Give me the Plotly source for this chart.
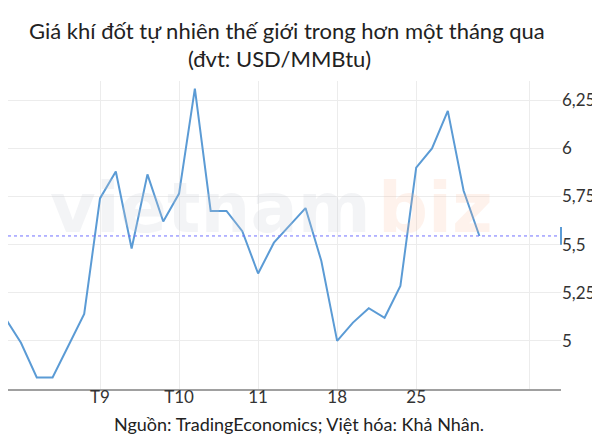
import plotly.graph_objects as go

# Data (trading days, index 0 = first full point)
idx = list(range(-1, 30))
values = [5.12, 4.99, 4.81, 4.81, 4.975, 5.14,
          5.74, 5.88, 5.48, 5.865, 5.62,
          5.765, 6.31, 5.675, 5.675, 5.57,
          5.35, 5.51, 5.60, 5.69, 5.415,
          5.00, 5.095, 5.17, 5.12, 5.285,
          5.90, 6.00, 6.195, 5.78, 5.545]
last_value = 5.545

x_tickvals = [5, 10, 15, 20, 25, 32.15]
x_ticktext = ["T9", "T10", "11", "18", "25", ""]
y_tickvals = [5, 5.25, 5.5, 5.75, 6, 6.25]
y_ticktext = ["5", "5,25", "5,5", "5,75", "6", "6,25"]

title_line1 = "Giá khí đốt tự nhiên thế giới trong hơn một tháng qua"
title_line2 = "(đvt: USD/MMBtu)"
source_text = "Nguồn: TradingEconomics; Việt hóa: Khả Nhân."

FONT = "Lato"
LINE_COLOR = "#5b9bd5"

fig = go.Figure()
fig.add_trace(go.Scatter(x=idx, y=values, mode="lines",
                         line=dict(color=LINE_COLOR, width=2),
                         hoverinfo="skip", showlegend=False))

fig.update_layout(
    width=600, height=438,
    margin=dict(l=0, r=47, t=73, b=57),
    paper_bgcolor="white", plot_bgcolor="white",
    font=dict(family=FONT, size=16, color="#333333"),
    xaxis=dict(range=[-0.82, 34.16], tickvals=x_tickvals, ticktext=x_ticktext,
               showgrid=True, gridcolor="#ececec", gridwidth=1,
               showline=True, linecolor="#a0a0a0", linewidth=2,
               ticks="", zeroline=False, fixedrange=True,
               ticklabelstandoff=-8,
               tickfont=dict(family=FONT, size=17, color="#333333")),
    yaxis=dict(range=[4.75, 6.35], side="right", tickvals=y_tickvals, ticktext=y_ticktext,
               showgrid=True, gridcolor="#ececec", gridwidth=1,
               showline=False, ticks="", zeroline=False, fixedrange=True,
               automargin=False,
               tickfont=dict(family=FONT, size=17, color="#333333")),
)

# watermark
fig.add_annotation(xref="paper", yref="paper", x=40/553, y=(381-200)/308, xanchor="left", yanchor="middle",
                   text="<b>vietnam</b>", showarrow=False,
                   font=dict(family="DejaVu Sans", size=70, color="rgba(200,205,215,0.22)"))
fig.add_annotation(xref="paper", yref="paper", x=368/553, y=(381-200)/308, xanchor="left", yanchor="middle",
                   text="<b>biz</b>", showarrow=False,
                   font=dict(family="DejaVu Sans", size=70, color="rgba(250,185,150,0.18)"))

# dotted last-value line
fig.add_shape(type="line", xref="paper", yref="y", x0=0, x1=1,
              y0=last_value, y1=last_value,
              line=dict(color="#7070ff", width=1, dash="dot"))
# last-value marker on right edge
fig.add_shape(type="line", xref="paper", yref="y", x0=1, x1=1,
              y0=last_value - 0.046, y1=last_value + 0.046,
              line=dict(color=LINE_COLOR, width=2))

# titles
fig.add_annotation(xref="paper", yref="paper", x=279/553, y=(381-23)/308,
                   xanchor="center", yanchor="middle", text=title_line1, showarrow=False,
                   font=dict(family=FONT, size=22, color="#222222"))
fig.add_annotation(xref="paper", yref="paper", x=271/553, y=(381-50)/308,
                   xanchor="center", yanchor="middle", text=title_line2, showarrow=False,
                   font=dict(family=FONT, size=22, color="#222222"))
# source
fig.add_annotation(xref="paper", yref="paper", x=291/553, y=(381-416)/308,
                   xanchor="center", yanchor="middle", text=source_text, showarrow=False,
                   font=dict(family=FONT, size=18, color="#222222"))

fig.write_html("out.html")
